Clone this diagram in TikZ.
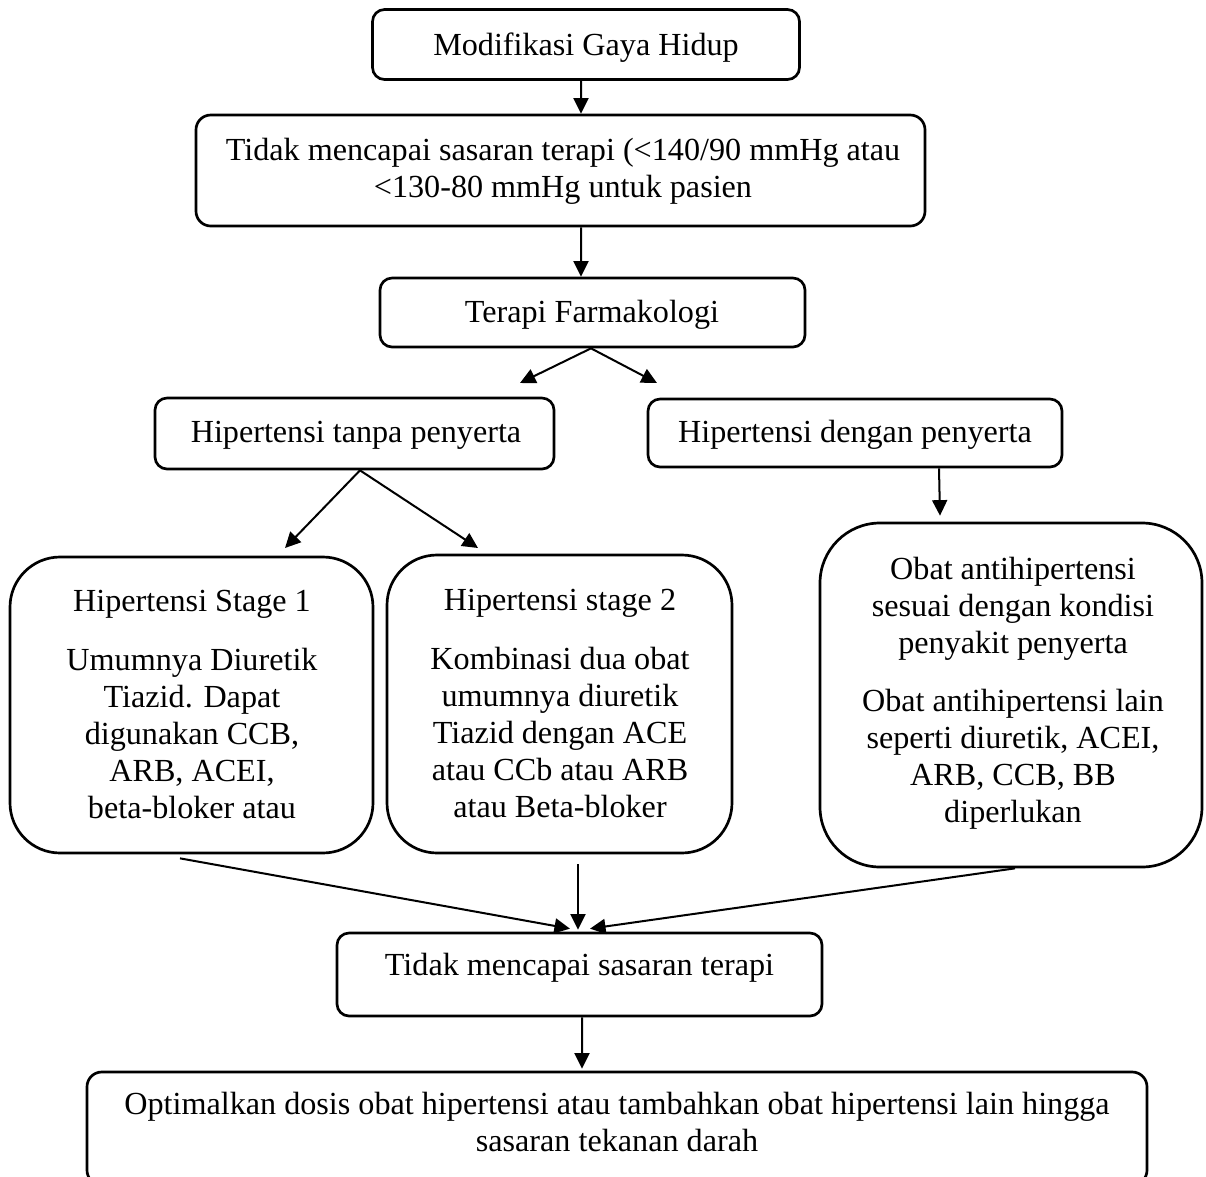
\documentclass[tikz,border=0pt]{standalone}
\usepackage{fontspec}
\setmainfont{Liberation Serif}
\usetikzlibrary{arrows.meta,calc}
\tikzset{
  box/.style={draw, line width=1pt, rounded corners=4.5pt, inner sep=0pt},
  bigbox/.style={box, rounded corners=18.7pt},
  dim/.style n args={2}{minimum width=#1*0.3731pt, minimum height=#2*0.3731pt},
  txt/.style={align=center, inner sep=0pt, font=\fontsize{12}{13.8}\selectfont},
  arr/.style={line width=0.75pt, -{Triangle[length=5.8pt,width=5.6pt]}}
}
\begin{document}
\begin{tikzpicture}[x=0.3731pt, y=-0.3731pt]
\useasboundingbox (0,0) rectangle (1206,1177);
\fill[white] (0,0) rectangle (1206,1177);
\clip (0,0) rectangle (1206,1177);

% boxes (text nodes are placed by the baseline of their last line)
\node[box, dim={427}{70}] (b1) at (586,44.5) {};
\node[txt, anchor=base] (t1) at (586,55) {Modifikasi Gaya Hidup};

\node[box, rounded corners=5.5pt, dim={729}{111}] (b2) at (560.5,170.5) {};
\node[txt, anchor=base] (t2) at (563,197) {Tidak mencapai sasaran terapi (<140/90 mmHg atau\\<130-80 mmHg untuk pasien};

\node[box, dim={425}{69}] (b3) at (592.5,312.5) {};
\node[txt, anchor=base] (t3) at (592,322) {Terapi Farmakologi};

\node[box, dim={399}{71}] (b4) at (354.5,433.5) {};
\node[txt, anchor=base] (t4) at (356,442) {Hipertensi tanpa penyerta};

\node[box, dim={414}{68}] (b5) at (855,433) {};
\node[txt, anchor=base] (t5) at (855,442) {Hipertensi dengan penyerta};

\node[bigbox, dim={363}{296}] (b6) at (191.5,705) {};
\node[txt, anchor=base] (t6) at (192,818) {Hipertensi Stage 1\\[8pt]Umumnya Diuretik\\Tiazid. Dapat\\digunakan CCB,\\ARB, ACEI,\\beta-bloker atau};

\node[bigbox, dim={345}{298}] (b7) at (559.5,704) {};
\node[txt, anchor=base] (t7) at (560,817) {Hipertensi stage 2\\[8pt]Kombinasi dua obat\\umumnya diuretik\\Tiazid dengan ACE\\atau CCb atau ARB\\atau Beta-bloker};

\node[box, rounded corners=22.4pt, dim={382}{344}] (b8) at (1011,695) {};
\node[txt, anchor=base] (t8) at (1013,822) {Obat antihipertensi\\sesuai dengan kondisi\\penyakit penyerta\\[7.8pt]Obat antihipertensi lain\\seperti diuretik, ACEI,\\ARB, CCB, BB\\diperlukan};

\node[box, dim={485}{83}] (b9) at (579.5,974.5) {};
\node[txt, anchor=base] (t9) at (579.5,975) {Tidak mencapai sasaran terapi};

\node[box, rounded corners=5.5pt, dim={1060}{113}] (b10) at (617,1128.5) {};
\node[txt, anchor=base] (t10) at (617,1151) {Optimalkan dosis obat hipertensi atau tambahkan obat hipertensi lain hingga\\sasaran tekanan darah};

% free arrow ends
\coordinate (p1) at (520,383);
\coordinate (p2) at (657,383);
\coordinate (p3) at (285,548);
\coordinate (p4) at (478,548);

% connectors
\draw[arr] ($(b1.south)+(-5,0)$) -- ($(b2.north)+(20.5,0)$);
\draw[arr] ($(b2.south)+(20.5,0)$) -- ($(b3.north)+(-11.5,0)$);
\draw[arr] ($(b3.south)+(-1.5,0)$) -- (p1);
\draw[arr] ($(b3.south)+(-1.5,0)$) -- (p2);
\draw[arr] ($(b4.south)+(5.5,0)$) -- (p3);
\draw[arr] ($(b4.south)+(5.5,0)$) -- (p4);
\draw[arr] ($(b5.south)+(84,0)$) -- ($(b8.north)+(-71,-6)$);
\draw[arr] ($(b6.south)+(-11.5,4)$) -- ($(b9.north)+(-9.5,-3)$);
\draw[arr] ($(b7.south)+(18.5,10)$) -- ($(b9.north)+(-1.5,-2)$);
\draw[arr] ($(b8.south)+(4,0)$) -- ($(b9.north)+(10.5,-3)$);
\draw[arr] ($(b9.south)+(2.5,0)$) -- ($(b10.north)+(-35,-2)$);
\end{tikzpicture}
\end{document}
